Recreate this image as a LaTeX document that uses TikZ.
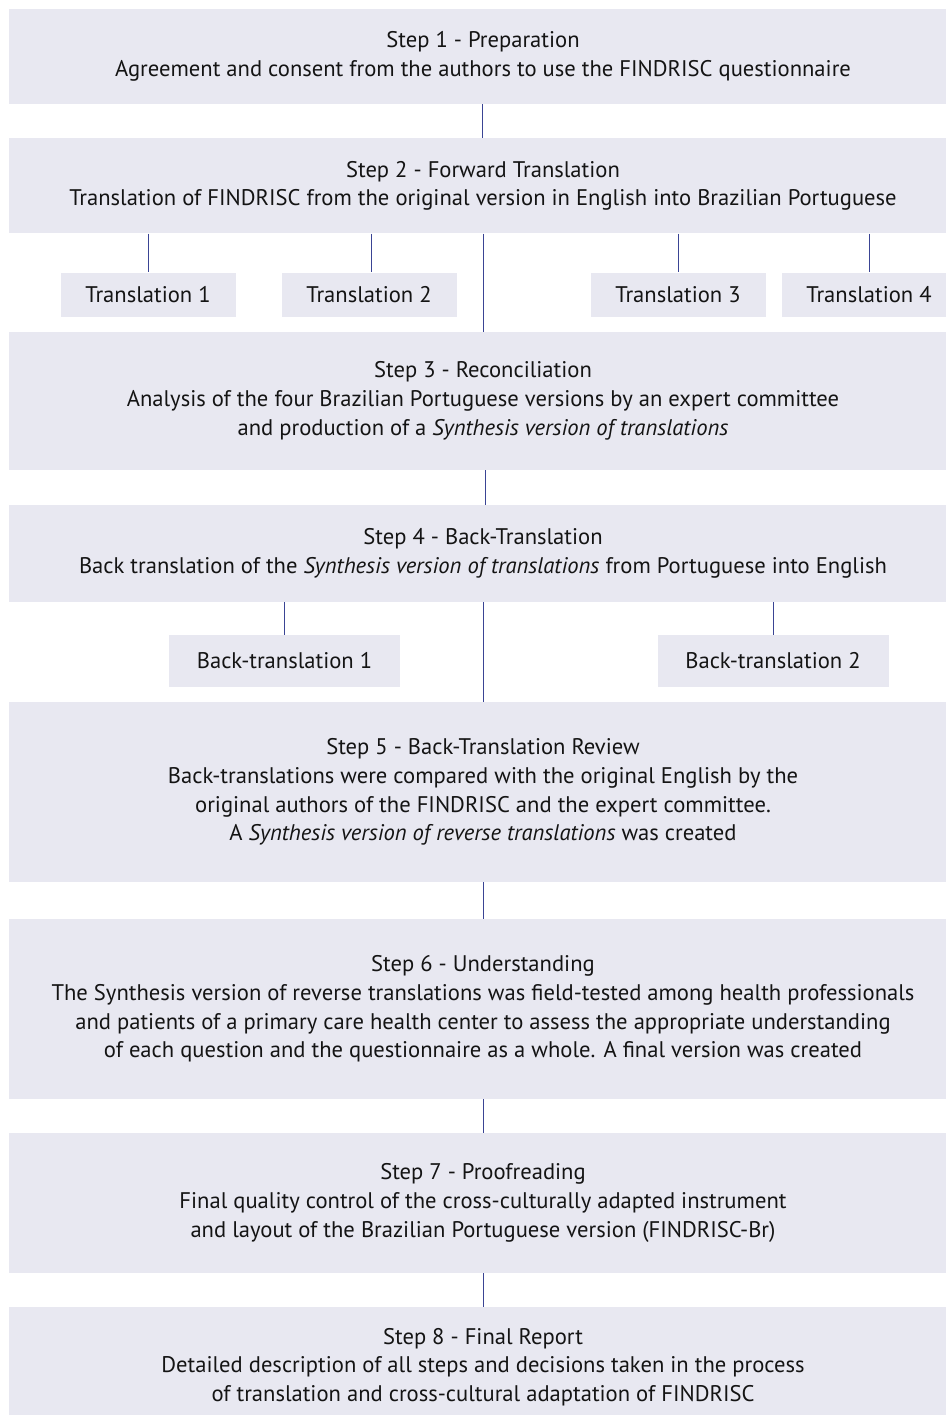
\documentclass[tikz,border=0pt]{standalone}
\usepackage{fontspec}
\setmainfont{PT Sans}
\definecolor{boxfill}{HTML}{E8E8F1}
\definecolor{linkblue}{HTML}{3A4494}
\begin{document}
\begin{tikzpicture}[x=1pt,y=-1pt,
  stepbox/.style={fill=boxfill,draw=none,minimum width=948pt,align=center,inner sep=0pt,
    font=\fontsize{22.6}{28.7}\selectfont,text=black!92},
  subbox/.style={fill=boxfill,draw=none,inner sep=0pt,minimum height=44pt,
    font=\fontsize{22.6}{28.7}\selectfont,text=black!92},
  link/.style={draw=linkblue,line width=1pt}]
\useasboundingbox (0,0) rectangle (945,1415);
% main steps
\node[stepbox,minimum height=95pt] (s1) at (483,56.5) {Step 1 - Preparation\\Agreement and consent from the authors to use the FINDRISC questionnaire};
\node[stepbox,minimum height=95pt] (s2) at (483,186) {Step 2 - Forward Translation\\Translation of FINDRISC from the original version in English into Brazilian Portuguese};
\node[stepbox,minimum height=138pt] (s3) at (483,401) {Step 3 - Reconciliation\\Analysis of the four Brazilian Portuguese versions by an expert committee\\and production of a \textit{Synthesis version of translations}};
\node[stepbox,minimum height=97pt] (s4) at (483,553.5) {Step 4 - Back-Translation\\Back translation of the \textit{Synthesis version of translations} from Portuguese into English};
\node[stepbox,minimum height=180pt] (s5) at (483,792) {Step 5 - Back-Translation Review\\Back-translations were compared with the original English by the\\original authors of the FINDRISC and the expert committee.\\A \textit{Synthesis version of reverse translations} was created};
\node[stepbox,minimum height=180pt] (s6) at (483,1009) {Step 6 - Understanding\\The Synthesis version of reverse translations was field-tested among health professionals\\and patients of a primary care health center to assess the appropriate understanding\\of each question and the questionnaire as a whole. A final version was created};
\node[stepbox,minimum height=140pt] (s7) at (483,1203) {Step 7 - Proofreading\\Final quality control of the cross-culturally adapted instrument\\and layout of the Brazilian Portuguese version (FINDRISC-Br)};
\node[stepbox,minimum height=120pt] (s8) at (483,1367) {Step 8 - Final Report\\Detailed description of all steps and decisions taken in the process\\of translation and cross-cultural adaptation of FINDRISC};
% translations
\node[subbox,minimum width=175pt] (t1) at (148,294.5) {Translation 1};
\node[subbox,minimum width=175pt] (t2) at (369,294.5) {Translation 2};
\node[subbox,minimum width=175pt] (t3) at (678,294.5) {Translation 3};
\node[subbox,minimum width=175pt] (t4) at (869,294.5) {Translation 4};
% back-translations
\node[subbox,minimum width=231pt,minimum height=52pt] (b1) at (284.5,661) {Back-translation 1};
\node[subbox,minimum width=231pt,minimum height=52pt] (b2) at (773,661) {Back-translation 2};
% connectors
\draw[link] (s1.south -| 482,0) -- (s2.north -| 482,0);
\draw[link] (s2.south -| 483,0) -- (s3.north -| 483,0);
\draw[link] (s2.south -| t1.north) -- (t1.north);
\draw[link] (s2.south -| 371,0) -- (t2.north -| 371,0);
\draw[link] (s2.south -| t3.north) -- (t3.north);
\draw[link] (s2.south -| t4.north) -- (t4.north);
\draw[link] (s3.south -| 485,0) -- (s4.north -| 485,0);
\draw[link] (s4.south -| 483,0) -- (s5.north -| 483,0);
\draw[link] (s4.south -| b1.north) -- (b1.north);
\draw[link] (s4.south -| b2.north) -- (b2.north);
\draw[link] (s5.south -| 483,0) -- (s6.north -| 483,0);
\draw[link] (s6.south -| 483,0) -- (s7.north -| 483,0);
\draw[link] (s7.south -| 483,0) -- (s8.north -| 483,0);
\end{tikzpicture}
\end{document}
